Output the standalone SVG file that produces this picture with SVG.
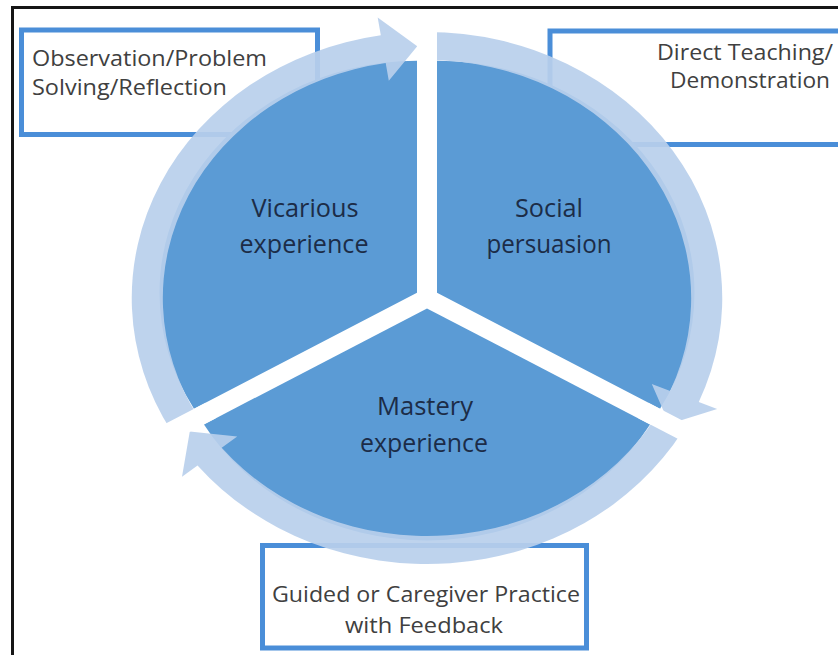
<svg xmlns="http://www.w3.org/2000/svg" width="838" height="655" viewBox="0 0 838 655">
<style>
.box{fill:#fff;stroke:#4A8ED8;stroke-width:5}
.btxt{font-family:"Open Sans","Liberation Sans",sans-serif;font-size:22px;fill:#404040}
.bc{text-anchor:middle}
.wedge{fill:#5B9BD5}
.wtxt{font-family:"Open Sans","Liberation Sans",sans-serif;font-size:25px;fill:#1C2C47;text-anchor:middle}
.arc{fill:#B8CFEC;fill-opacity:0.92}
.gap{stroke:#fff;stroke-width:18;fill:none}
.frame{stroke:#161616;stroke-width:3;fill:none}
</style>
<rect width="838" height="655" fill="#fff"/>
<g id="box-observation">
<rect class="box" x="21.5" y="30" width="296" height="104.5"/>
<text class="btxt" x="32" y="65.5" textLength="235" lengthAdjust="spacingAndGlyphs">Observation/Problem</text>
<text class="btxt" x="32" y="94.5" textLength="195" lengthAdjust="spacingAndGlyphs">Solving/Reflection</text>
</g>
<g id="box-direct-teaching">
<rect class="box" x="550" y="31" width="300" height="113.5"/>
<text class="btxt" x="657" y="59.5" textLength="176" lengthAdjust="spacingAndGlyphs">Direct Teaching/</text>
<text class="btxt" x="670" y="87.5" textLength="160" lengthAdjust="spacingAndGlyphs">Demonstration</text>
</g>
<g id="box-guided-practice">
<rect class="box" x="262.5" y="545.5" width="324" height="102.5"/>
<text class="btxt bc" x="426" y="601.5" font-size="23" textLength="308" lengthAdjust="spacingAndGlyphs">Guided or Caregiver Practice</text>
<text class="btxt bc" x="424" y="633" font-size="23" textLength="158" lengthAdjust="spacingAndGlyphs">with Feedback</text>
</g>
<g id="vicarious-experience">
<path class="wedge" transform="translate(427,298) scale(1.11,1)" d="M -9.01,-5.2 L -209.93,110.8 A 232 232 0 0 1 -9.01,-237.2 Z"/>
<text class="wtxt" x="305" y="217" textLength="107" lengthAdjust="spacingAndGlyphs">Vicarious</text>
<text class="wtxt" x="304" y="253" textLength="129" lengthAdjust="spacingAndGlyphs">experience</text>
</g>
<g id="social-persuasion">
<path class="wedge" transform="translate(427,298) scale(1.11,1)" d="M 9.01,-5.2 L 9.01,-237.2 A 232 232 0 0 1 209.93,110.8 Z"/>
<text class="wtxt" x="549" y="217" textLength="68" lengthAdjust="spacingAndGlyphs">Social</text>
<text class="wtxt" x="549" y="253" textLength="125" lengthAdjust="spacingAndGlyphs">persuasion</text>
</g>
<g id="mastery-experience">
<path class="wedge" transform="translate(427,298) scale(1.11,1)" d="M 0,10.4 L 200.92,126.4 A 232 232 0 0 1 -200.92,126.4 Z"/>
<text class="wtxt" x="425" y="415" textLength="96" lengthAdjust="spacingAndGlyphs">Mastery</text>
<text class="wtxt" x="424" y="452" textLength="128" lengthAdjust="spacingAndGlyphs">experience</text>
</g>
<g id="connectors" transform="translate(427,298) scale(1.11,1)">
<path class="arc" d="M -206.11,119 A 238 238 0 0 1 -37.23,-235.07 L -34.41,-217.29 L -8.79,-251.85 L -44.43,-280.5 L -41.61,-262.73 A 266 266 0 0 0 -230.36,133 Z"/>
<path class="arc" d="M 0,-238 A 238 238 0 0 1 219.08,92.99 L 202.51,85.96 L 218.24,126 L 261.42,110.97 L 244.85,103.93 A 266 266 0 0 0 0,-266 Z"/>
<path class="arc" d="M 206.11,119 A 238 238 0 0 1 -184.96,149.78 L -170.97,138.45 L -213.71,133.54 L -220.71,178.73 L -206.72,167.4 A 266 266 0 0 0 230.36,133 Z"/>
</g>
<g id="gaps" transform="translate(427,298) scale(1.11,1)">
<line class="gap" x1="0" y1="-225" x2="0" y2="-290"/>
<line class="gap" x1="194.86" y1="112.5" x2="251.15" y2="145"/>
<line class="gap" x1="-194.86" y1="112.5" x2="-251.15" y2="145"/>
</g>
<g id="frame">
<line class="frame" x1="11" y1="7.5" x2="838" y2="7.5"/>
<line class="frame" x1="12.5" y1="6" x2="12.5" y2="655"/>
</g>
</svg>
